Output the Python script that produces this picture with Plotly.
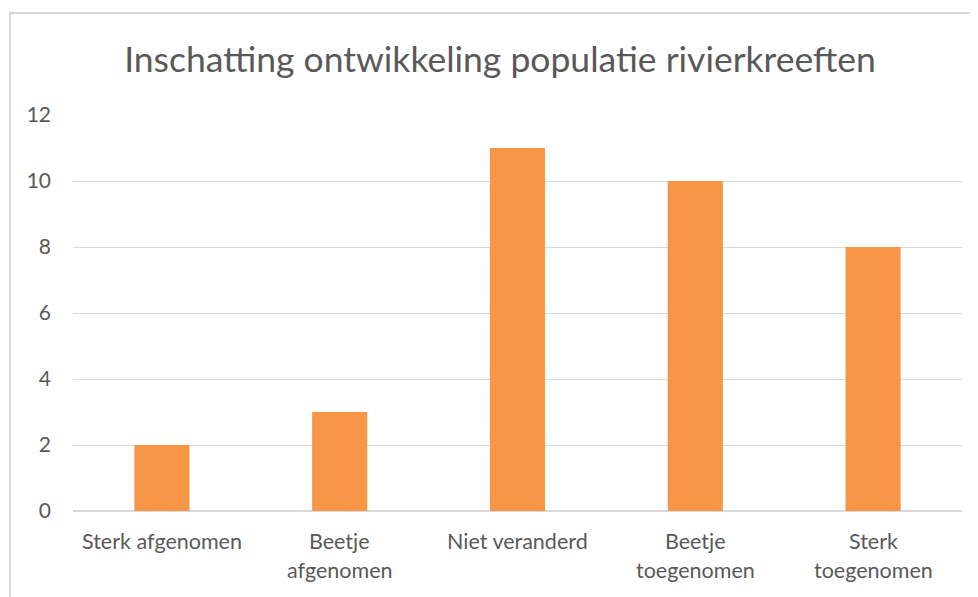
import plotly.graph_objects as go

categories = ["Sterk afgenomen", "Beetje afgenomen", "Niet veranderd",
              "Beetje toegenomen", "Sterk toegenomen"]
label_lines = [["Sterk afgenomen"], ["Beetje", "afgenomen"], ["Niet veranderd"],
               ["Beetje", "toegenomen"], ["Sterk", "toegenomen"]]
values = [2, 3, 11, 10, 8]
y_ticks = [0, 2, 4, 6, 8, 10, 12]

# page has an 8px body margin, so the figure starts at (8, 8)
OFF = 8
W, H = 978 - OFF, 597 - OFF
L, R, T, B = 73 - OFF, 16, 115 - OFF, 86
pw, ph = W - L - R, H - T - B

FONT = "Lato"
TXT = "#595959"
GRID = "#D9D9D9"

fig = go.Figure(go.Bar(x=categories, y=values, marker_color="#F79646",
                       marker_line_width=0, width=0.31))

annotations = []
for cat, lines in zip(categories, label_lines):
    for i, ln in enumerate(lines):
        annotations.append(dict(x=cat, xref="x", y=0, yref="paper",
                                text=ln, showarrow=False, yanchor="middle",
                                yshift=-30 - 29 * i,
                                font=dict(family=FONT, size=21.5, color=TXT)))

fig.update_layout(
    width=W, height=H,
    margin=dict(l=L, r=R, t=T, b=B),
    paper_bgcolor="white", plot_bgcolor="white",
    showlegend=False,
    title=dict(text="Inschatting ontwikkeling populatie rivierkreeften",
               x=(500 - OFF) / W, xanchor="center",
               y=1 - (60 - OFF) / H, yanchor="middle", yref="container",
               font=dict(family=FONT, size=35.5, color=TXT)),
    xaxis=dict(showticklabels=False, showgrid=False, zeroline=False,
               showline=False, ticks="", range=[-0.5, 4.5]),
    yaxis=dict(range=[0, 12], tickvals=y_ticks, showgrid=True,
               gridcolor=GRID, gridwidth=1.3, zeroline=True,
               zerolinecolor=GRID, zerolinewidth=2, showline=False,
               ticks="", ticklabelstandoff=21,
               tickfont=dict(family=FONT, size=21, color=TXT)),
    annotations=annotations,
    shapes=[dict(type="rect", xref="paper", yref="paper",
                 x0=(10 - 73) / pw, x1=1.2, y0=-1, y1=1 + (115 - 13) / ph,
                 line=dict(color=GRID, width=2), fillcolor="rgba(0,0,0,0)")],
)

fig.write_html("out.html")
